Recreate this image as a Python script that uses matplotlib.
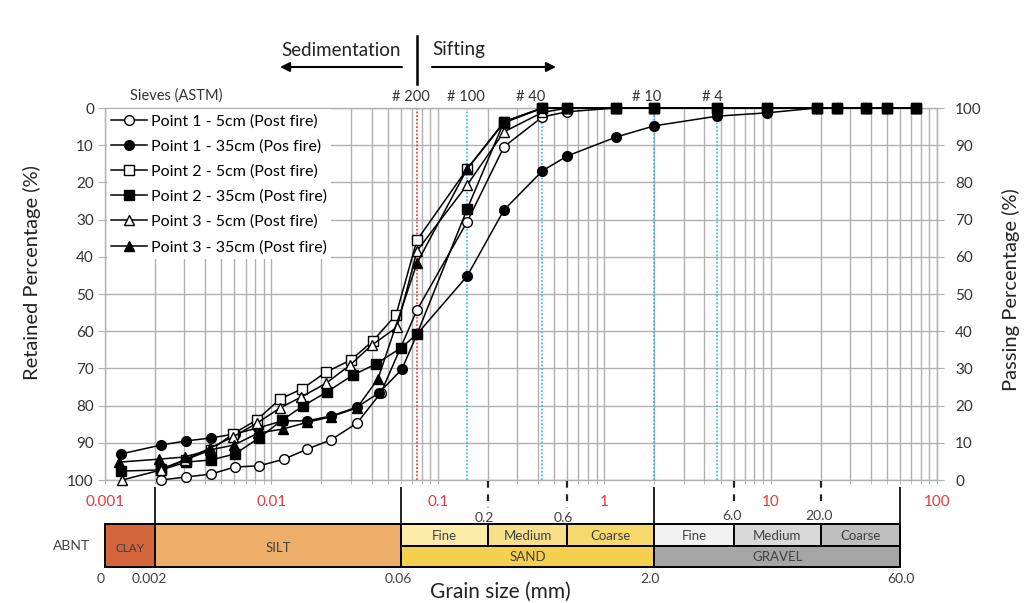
import matplotlib
matplotlib.use("Agg")
import matplotlib.pyplot as plt
from matplotlib.lines import Line2D
from matplotlib.patches import Rectangle
from matplotlib.ticker import FixedLocator, FixedFormatter, LogLocator, NullFormatter

plt.rcParams['font.family'] = ['Lato', 'DejaVu Sans']

# ---------------- data ----------------
sieve_mm = [0.075, 0.15, 0.25, 0.425, 0.6, 1.18, 2.0, 4.75, 9.5, 19.0, 25.0, 37.5, 50.0, 75.0]

p1_5_fine_mm = [0.00217, 0.00307, 0.00434, 0.00604, 0.00843, 0.0119, 0.0164, 0.0228, 0.0327, 0.0456]
p1_5_fine_ret = [100.0, 99.2, 98.4, 96.5, 96.2, 94.4, 91.7, 89.2, 84.7, 76.5]
p1_5_sieve_ret = [54.3, 30.6, 10.4, 2.4, 1.0, 0, 0, 0, 0, 0, 0, 0, 0, 0]

p1_35_fine_mm = [0.00125, 0.00217, 0.00307, 0.00434, 0.00604, 0.00831, 0.0117, 0.0164, 0.0228, 0.0327, 0.0443, 0.0609]
p1_35_fine_ret = [93.0, 90.6, 89.5, 88.7, 87.6, 86.0, 84.1, 84.1, 82.8, 80.4, 76.6, 70.2]
p1_35_sieve_ret = [60.8, 45.2, 27.4, 16.9, 12.9, 7.8, 4.8, 2.2, 1.3, 0, 0, 0, 0, 0]

p2_5_fine_mm = [0.00217, 0.00307, 0.00434, 0.00588, 0.00820, 0.0113, 0.0153, 0.0213, 0.0301, 0.0408, 0.0561]
p2_5_fine_ret = [97.0, 94.5, 91.9, 87.6, 83.8, 78.2, 75.5, 71.0, 67.7, 62.6, 55.6]
p2_5_sieve_ret = [35.5, 16.4, 3.7, 0, 0, 0, 0, 0, 0, 0, 0, 0, 0, 0]

p2_35_fine_mm = [0.00125, 0.00217, 0.00307, 0.00434, 0.00604, 0.00837, 0.0116, 0.0155, 0.0216, 0.0309, 0.0425, 0.0601]
p2_35_fine_ret = [97.6, 97.3, 95.2, 94.6, 93.0, 88.8, 83.9, 80.1, 76.3, 71.8, 68.8, 64.5]
p2_35_sieve_ret = [60.8, 27.2, 3.7, 0, 0, 0, 0, 0, 0, 0, 0, 0, 0, 0]

p3_5_fine_mm = [0.00127, 0.00217, 0.00303, 0.00428, 0.00588, 0.00820, 0.0113, 0.0151, 0.0213, 0.0297, 0.0402, 0.0569]
p3_5_fine_ret = [100.0, 97.3, 94.6, 91.4, 88.4, 84.7, 80.6, 77.7, 74.0, 69.1, 63.7, 58.9]
p3_5_sieve_ret = [38.4, 20.7, 6.4, 1.2, 0, 0, 0, 0, 0, 0, 0, 0, 0, 0]

p3_35_fine_mm = [0.00121, 0.00211, 0.00303, 0.00428, 0.00596, 0.00831, 0.0117, 0.0164, 0.0228, 0.0327, 0.0437]
p3_35_fine_ret = [95.2, 94.4, 93.8, 91.9, 90.6, 87.4, 86.3, 84.5, 83.0, 80.6, 72.8]
p3_35_sieve_ret = [41.7, 16.4, 4.0, 0, 0, 0, 0, 0, 0, 0, 0, 0, 0, 0]

series_labels = ['Point 1 - 5cm (Post fire)', 'Point 1 - 35cm (Pos fire)',
                 'Point 2 - 5cm (Post fire)', 'Point 2 - 35cm (Post fire)',
                 'Point 3 - 5cm (Post fire)', 'Point 3 - 35cm (Post fire)']

astm_labels = ['# 200', '# 100', '# 40', '# 10', '# 4']
astm_mm = [0.075, 0.15, 0.425, 2.0, 4.75]

x_tick_vals = [0.001, 0.01, 0.1, 1, 10, 100]
x_tick_labels = ['0.001', '0.01', '0.1', '1', '10', '100']
y_ticks = [0, 10, 20, 30, 40, 50, 60, 70, 80, 90, 100]

# classification (ABNT)
full_names = ['CLAY', 'SILT']
full_bounds = [(0.001, 0.002), (0.002, 0.06)]
full_colors = ['#D4643A', '#EDAE69']
sub_names = ['Fine', 'Medium', 'Coarse', 'Fine', 'Medium', 'Coarse']
sub_bounds = [(0.06, 0.2), (0.2, 0.6), (0.6, 2.0), (2.0, 6.0), (6.0, 20.0), (20.0, 60.0)]
sub_colors = ['#FDEBAA', '#FADF8A', '#F7D86C', '#F2F2F2', '#D9D9D9', '#BFBFBF']
main_names = ['SAND', 'GRAVEL']
main_bounds = [(0.06, 2.0), (2.0, 60.0)]
main_colors = ['#F5D04F', '#A6A6A6']
solid_marks = [0.002, 0.06, 2.0, 60.0]
dashed_marks = [0.2, 0.6, 6.0, 20.0]
dashed_labels = ['0.2', '0.6', '6.0', '20.0']
bottom_marks = [0.001, 0.002, 0.06, 2.0, 60.0]
bottom_labels = ['0', '0.002', '0.06', '2.0', '60.0']

# ---------------- figure ----------------
W, H = 1024, 603
fig = plt.figure(figsize=(W / 100, H / 100), dpi=100)
fig.patch.set_facecolor('white')

def fx(px):
    return px / W

def fy(py):
    return 1 - py / H

ax = fig.add_axes([fx(105), fy(480), (937 - 105) / W, (480 - 108) / H])
ax.set_xscale('log')
ax.set_xlim(0.001, 100)
ax.set_ylim(100, 0)
ax.set_axisbelow(True)

gcol = '#B0B0B0'
ax.xaxis.set_major_locator(FixedLocator(x_tick_vals))
ax.xaxis.set_major_formatter(FixedFormatter(x_tick_labels))
ax.xaxis.set_minor_locator(LogLocator(base=10, subs=range(2, 10), numticks=20))
ax.xaxis.set_minor_formatter(NullFormatter())
ax.set_yticks(y_ticks)
ax.grid(which='both', axis='x', color=gcol, lw=1.0)
ax.grid(which='major', axis='y', color=gcol, lw=1.0)
ax.tick_params(axis='x', which='both', length=3, color=gcol, labelcolor='#E8393C',
               labelsize=11, pad=8)
ax.tick_params(axis='y', length=5, color=gcol, labelcolor='#333333', labelsize=11, pad=3)
for s in ax.spines.values():
    s.set_color(gcol)
    s.set_linewidth(1.0)

# sieve reference lines
for d in astm_mm:
    c = '#FF2020' if d == 0.075 else '#22B5E8'
    ax.axvline(d, color=c, ls=(0, (1.2, 1.2)), lw=1.1, zorder=1.5)

markers = [('o', 'white'), ('o', 'black'), ('s', 'white'), ('s', 'black'), ('^', 'white'), ('^', 'black')]
fine_mm = [p1_5_fine_mm, p1_35_fine_mm, p2_5_fine_mm, p2_35_fine_mm, p3_5_fine_mm, p3_35_fine_mm]
fine_ret = [p1_5_fine_ret, p1_35_fine_ret, p2_5_fine_ret, p2_35_fine_ret, p3_5_fine_ret, p3_35_fine_ret]
sieve_ret = [p1_5_sieve_ret, p1_35_sieve_ret, p2_5_sieve_ret, p2_35_sieve_ret, p3_5_sieve_ret, p3_35_sieve_ret]

handles = []
for i in range(6):
    xs = list(fine_mm[i]) + sieve_mm
    ys = list(fine_ret[i]) + sieve_ret[i]
    m, fc = markers[i]
    ms = 7 if m != '^' else 7.5
    h, = ax.plot(xs, ys, color='black', lw=1.1, marker=m, ms=ms, mfc=fc, mec='black',
                 mew=1.0, label=series_labels[i], zorder=3 + i * 0.1, clip_on=False)
    handles.append(h)

leg = ax.legend(handles=handles, loc='upper left', bbox_to_anchor=(0.002, 0.997),
                fontsize=11.5, frameon=True, facecolor='white', edgecolor='none', framealpha=1,
                fancybox=False, handlelength=2.2, handletextpad=0.25, labelspacing=0.68,
                borderpad=0.3, borderaxespad=0)

ax2 = ax.twinx()
ax2.set_ylim(0, 100)
ax2.set_yticks(y_ticks)
ax2.tick_params(axis='y', length=5, color=gcol, labelcolor='#333333', labelsize=11, pad=8)
for s in ax2.spines.values():
    s.set_visible(False)

# ---------------- top annotations ----------------
fig.text(fx(130), fy(96), 'Sieves (ASTM)', fontsize=10.5, color='#333333', ha='left', va='center')
astm_px = [411, 466, 531, 647, 712]
for lab, px in zip(astm_labels, astm_px):
    fig.text(fx(px), fy(97), lab, fontsize=10.5, color='#333333', ha='center', va='center')

fig.add_artist(Line2D([fx(417), fx(417)], [fy(36), fy(84)], color='black', lw=1.8,
                      transform=fig.transFigure))
fig.text(fx(341), fy(50), 'Sedimentation', fontsize=13.5, color='#222222', ha='center', va='center')
fig.text(fx(432), fy(50), 'Sifting', fontsize=13.5, color='#222222', ha='left', va='center')
arrow_kw = dict(arrowstyle='-|>', lw=1.5, color='black', mutation_scale=14, shrinkA=0, shrinkB=0)
ax.annotate('', xy=(280, H - 67), xytext=(402, H - 67), xycoords='figure pixels',
            textcoords='figure pixels', arrowprops=arrow_kw, annotation_clip=False)
ax.annotate('', xy=(556, H - 67), xytext=(432, H - 67), xycoords='figure pixels',
            textcoords='figure pixels', arrowprops=arrow_kw, annotation_clip=False)

# ---------------- bottom classification bar ----------------
axb = fig.add_axes([fx(105), 0, (937 - 105) / W, (H - 480) / H])
axb.set_xscale('log')
axb.set_xlim(0.001, 100)
axb.set_ylim(H, 480)   # rows measured from figure top
axb.axis('off')

top_r, mid_r, bot_r = 524, 546, 567
lab_col = '#404040'
for (a, b), c, n in zip(full_bounds, full_colors, full_names):
    axb.add_patch(Rectangle((a, top_r), b - a, bot_r - top_r, facecolor=c, edgecolor='black',
                            lw=1.4, clip_on=False))
    axb.text((a * b) ** 0.5, 548, n, ha='center', va='center', fontsize=9.5 if n == 'SILT' else 8.5,
             color=lab_col)
for (a, b), c, n in zip(sub_bounds, sub_colors, sub_names):
    axb.add_patch(Rectangle((a, top_r), b - a, mid_r - top_r, facecolor=c, edgecolor='black',
                            lw=1.4, clip_on=False))
    axb.text((a * b) ** 0.5, 536, n, ha='center', va='center', fontsize=9.5, color=lab_col)
for (a, b), c, n in zip(main_bounds, main_colors, main_names):
    axb.add_patch(Rectangle((a, mid_r), b - a, bot_r - mid_r, facecolor=c, edgecolor='black',
                            lw=1.4, clip_on=False))
    axb.text((a * b) ** 0.5, 557, n, ha='center', va='center', fontsize=9.5, color=lab_col)

axb.vlines(solid_marks, 487, top_r, color='#222222', lw=1.4)
axb.vlines(dashed_marks[:2], 481, 508, color='#222222', lw=1.6, linestyles=(0, (3, 3)))
axb.vlines(dashed_marks[2:], 481, 503, color='#222222', lw=1.6, linestyles=(0, (3, 3)))
dash_lab_px = [(484, 518), (563, 518), (732, 516), (819, 516)]
for lab, (px, py) in zip(dashed_labels, dash_lab_px):
    fig.text(fx(px), fy(py), lab, fontsize=10, color=lab_col, ha='center', va='center')
bot_lab_px = [101, 149, 398, 650, 901]
for lab, px in zip(bottom_labels, bot_lab_px):
    fig.text(fx(px), fy(579), lab, fontsize=10, color=lab_col, ha='center', va='center')
fig.text(fx(72), fy(546), 'ABNT', fontsize=10, color=lab_col, ha='center', va='center')

fig.text(fx(500), fy(592), 'Grain size (mm)', fontsize=15, color='#222222', ha='center', va='center')
fig.text(fx(32), fy(273), 'Retained Percentage (%)', fontsize=14.5, color='#222222',
         rotation=90, ha='center', va='center')
fig.text(fx(1011), fy(290), 'Passing Percentage (%)', fontsize=14.5, color='#222222',
         rotation=90, ha='center', va='center')

fig.savefig('out.png', dpi=100, facecolor='white')
